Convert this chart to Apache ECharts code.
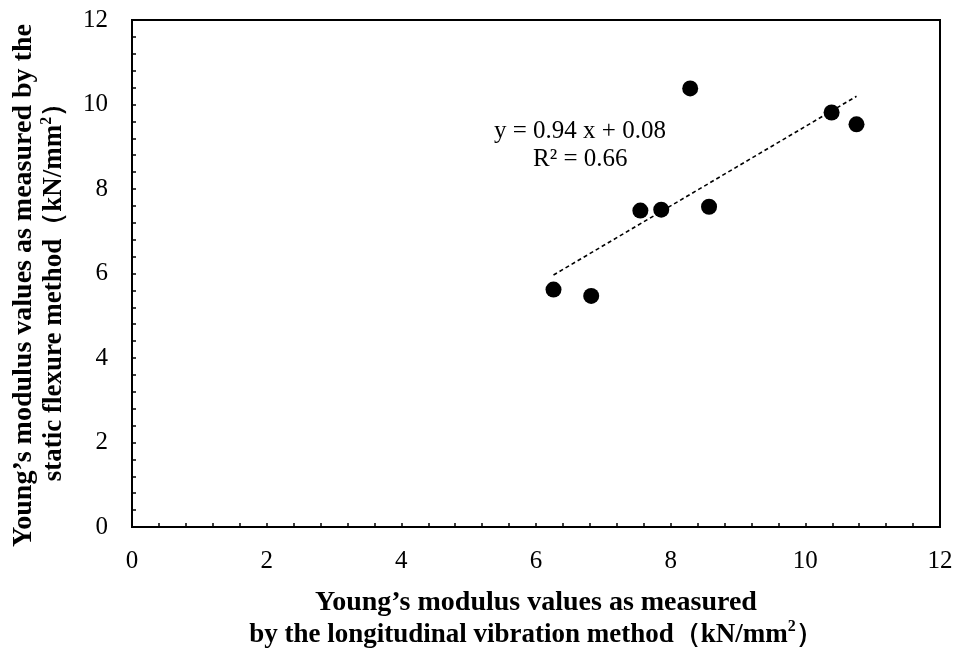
<!DOCTYPE html>
<html>
<head>
<meta charset="utf-8">
<script src="https://cdn.jsdelivr.net/npm/echarts@6/dist/echarts.min.js"></script>
<style>html,body{margin:0;padding:0;background:#fff;}#c{width:955px;height:650px;}</style>
</head>
<body>
<div id="c"></div>
<script>
// Data
var xValues = [6.26, 6.82, 7.55, 7.86, 8.57, 8.29, 10.39, 10.76];
var yValues = [5.62, 5.47, 7.49, 7.51, 7.58, 10.38, 9.81, 9.53];
var trendSlope = 0.94;
var trendIntercept = 0.08;
var equationText = 'y = 0.94 x + 0.08';
var r2Text = 'R² = 0.66';
var xTitleLines = ['Young\u2019s modulus values as measured', 'by the longitudinal vibration method\uFF08kN/mm', '2', '\uFF09'];
var yTitleLines = ['Young\u2019s modulus values as measured by the', 'static flexure method\uFF08kN/mm', '2', '\uFF09'];

var points = xValues.map(function (x, i) { return [x, yValues[i]]; });
var xMin = Math.min.apply(null, xValues), xMax = Math.max.apply(null, xValues);
var trend = [[xMin, trendSlope * xMin + trendIntercept], [xMax, trendSlope * xMax + trendIntercept]];

var serif = '"Liberation Serif", "Times New Roman", serif';
var chart = echarts.init(document.getElementById('c'));

function titleText(l) {
  return '{a|' + l[0] + '}\n{b|' + l[1] + '}{s|' + l[2] + '}{b|' + l[3] + '}';
}

function axisCommon(lines, gap, s1, s2, lh, pad) {
  var base = { fontFamily: serif, fontWeight: 'bold', color: '#000', lineHeight: lh };
  return {
    type: 'value', min: 0, max: 12, interval: 2,
    name: titleText(lines), nameLocation: 'middle', nameGap: gap, nameMoveOverlap: false,
    nameTextStyle: {
      fontFamily: serif, fontWeight: 'bold', fontSize: s1, color: '#000', lineHeight: lh,
      padding: pad,
      rich: {
        a: Object.assign({ fontSize: s1 }, base),
        b: Object.assign({ fontSize: s2 }, base),
        s: Object.assign({ fontSize: 16, verticalAlign: 'top', padding: [0, 0, 12, 0] }, base)
      }
    },
    axisLine: { show: true, lineStyle: { color: '#000', width: 2 } },
    axisTick: { show: true, inside: true, length: 4, lineStyle: { color: '#000', width: 1.5 } },
    minorTick: { show: true, splitNumber: 5, length: 4, lineStyle: { color: '#000', width: 1.5 } },
    axisLabel: { fontFamily: serif, fontSize: 25, color: '#000', margin: 22 },
    splitLine: { show: false }
  };
}

var xAxis = axisCommon(xTitleLines, 59, 28, 27, 33, 0);
var yAxis = axisCommon(yTitleLines, 62, 28, 27, 31, [0, 24, 0, 0]);
yAxis.axisLabel.margin = 24;

chart.setOption({
  animation: false,
  backgroundColor: '#fff',
  grid: { left: 132, right: 15, top: 20, bottom: 123, show: true, borderColor: '#000', borderWidth: 2, outerBoundsMode: 'none', containLabel: false },
  xAxis: xAxis,
  yAxis: yAxis,
  series: [
    {
      type: 'line', data: trend, symbol: 'none',
      lineStyle: { color: '#000', width: 1.6, type: [4, 3] }, z: 2
    },
    {
      type: 'scatter', data: points, symbol: 'circle', symbolSize: 16,
      itemStyle: { color: '#000', opacity: 1 }, z: 3
    }
  ],
  graphic: [
    { type: 'text', left: 494, top: 119, style: { text: equationText, font: '25px ' + serif, fill: '#000' } },
    { type: 'text', left: 533, top: 147, style: { text: r2Text, font: '25px ' + serif, fill: '#000' } }
  ]
});
</script>
</body>
</html>
